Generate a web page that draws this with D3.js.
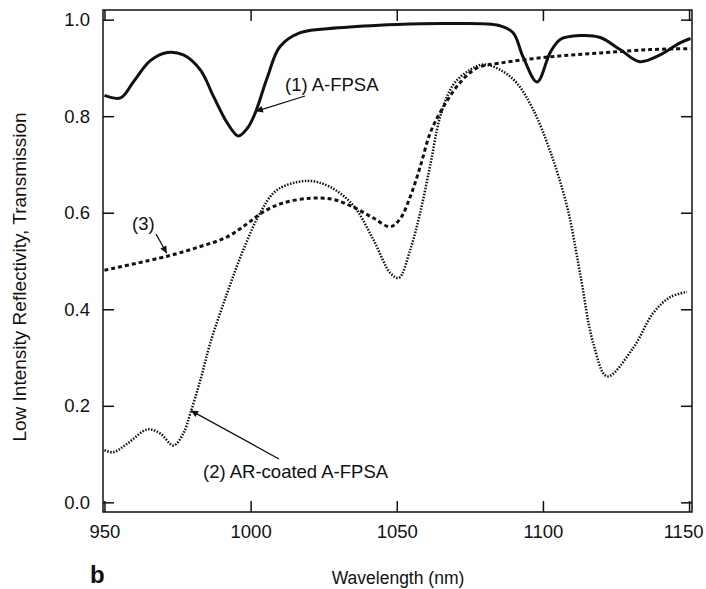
<!DOCTYPE html>
<html>
<head>
<meta charset="utf-8">
<script src="https://cdn.jsdelivr.net/npm/d3@7"></script>
<style>
  body { margin: 0; background: #fff; }
  text { font-family: "Liberation Sans", Arial, sans-serif; fill: #111; }
</style>
</head>
<body>
<svg id="chart" width="706" height="589"></svg>
<script>
// (1) A-FPSA, solid
const afpsaWl = [950, 955.5, 960, 965.7, 971.5, 977, 982.8, 987.3, 992, 995.8, 999, 1001.6, 1005.7, 1010, 1017, 1030, 1050, 1068, 1085, 1089.8, 1093.2, 1098, 1102.5, 1105.9, 1112.7, 1119.6, 1126.4, 1133.2, 1140.1, 1146.9, 1150.5];
const afpsaVal = [0.843, 0.838, 0.872, 0.915, 0.932, 0.927, 0.896, 0.841, 0.786, 0.759, 0.776, 0.807, 0.88, 0.944, 0.973, 0.983, 0.99, 0.992, 0.988, 0.973, 0.923, 0.871, 0.932, 0.959, 0.967, 0.963, 0.938, 0.913, 0.927, 0.952, 0.961];

// (2) AR-coated A-FPSA, dotted
const arWl = [950, 953, 957.9, 964.7, 969, 973.6, 977, 979.4, 982.8, 986.2, 992, 997.5, 1003.3, 1009, 1019.4, 1027, 1035, 1042, 1047.8, 1050.7, 1054.6, 1058, 1061.5, 1064.9, 1069.3, 1075, 1079.6, 1085.4, 1091, 1096.7, 1102.5, 1108.3, 1112.7, 1117.2, 1122, 1130.9, 1137.7, 1143.5, 1149.3];
const arVal = [0.108, 0.104, 0.122, 0.151, 0.143, 0.118, 0.143, 0.185, 0.253, 0.33, 0.434, 0.523, 0.6, 0.647, 0.666, 0.654, 0.616, 0.544, 0.475, 0.465, 0.523, 0.6, 0.7, 0.8, 0.865, 0.896, 0.907, 0.896, 0.869, 0.813, 0.727, 0.612, 0.475, 0.33, 0.261, 0.32, 0.392, 0.425, 0.436];

// (3), dashed
const c3Wl = [950, 971.5, 982.8, 992, 999, 1004.4, 1011, 1020.4, 1028, 1035, 1042, 1047.8, 1051.2, 1054.6, 1058, 1061.5, 1066, 1071.7, 1077.5, 1085.4, 1102.5, 1119.6, 1136.7, 1150.5];
const c3Val = [0.481, 0.51, 0.53, 0.55, 0.578, 0.602, 0.62, 0.63, 0.628, 0.612, 0.589, 0.571, 0.588, 0.633, 0.695, 0.766, 0.82, 0.87, 0.9, 0.91, 0.923, 0.931, 0.938, 0.94];

const xTicks = [950, 1000, 1050, 1100, 1150];
const yTicks = [0, 0.2, 0.4, 0.6, 0.8, 1.0];

const svg = d3.select("#chart");
const frame = { left: 103, right: 692, top: 10, bottom: 512 };

const x = d3.scaleLinear().domain([949.5, 1151]).range([frame.left, frame.right]);
const y = d3.scaleLinear().domain([-0.02, 1.02]).range([frame.bottom, frame.top]);

svg.append("defs").append("marker")
  .attr("id", "arrow")
  .attr("viewBox", "0 0 10 10")
  .attr("refX", 10).attr("refY", 5)
  .attr("markerWidth", 10).attr("markerHeight", 7)
  .attr("markerUnits", "userSpaceOnUse")
  .attr("orient", "auto")
  .append("path")
  .attr("d", "M0,0L10,5L0,10z")
  .attr("fill", "#111");

// frame
svg.append("rect")
  .attr("x", frame.left).attr("y", frame.top)
  .attr("width", frame.right - frame.left).attr("height", frame.bottom - frame.top)
  .attr("fill", "none").attr("stroke", "#111").attr("stroke-width", 1.5);

const tickLen = 11;
const axes = [
  { axis: d3.axisBottom(x).tickValues(xTicks).tickFormat(d3.format("d")), t: `translate(0,${frame.bottom})`, labels: true },
  { axis: d3.axisTop(x).tickValues(xTicks), t: `translate(0,${frame.top})`, labels: false },
  { axis: d3.axisLeft(y).tickValues(yTicks).tickFormat(d3.format(".1f")), t: `translate(${frame.left},0)`, labels: true },
  { axis: d3.axisRight(y).tickValues(yTicks), t: `translate(${frame.right},0)`, labels: false },
];
axes.forEach((a) => {
  const g = svg.append("g")
    .attr("transform", a.t)
    .call(a.axis.tickSizeInner(-tickLen).tickSizeOuter(0).tickPadding(13));
  g.select(".domain").remove();
  g.selectAll(".tick line").attr("stroke", "#111").attr("stroke-width", 1.5);
  g.selectAll(".tick text")
    .style("font-size", "18.5px")
    .attr("fill", "#111")
    .style("display", a.labels ? null : "none");
});

// last x label sits a little left of its tick, as in the print
svg.selectAll(".tick text")
  .filter((d) => d === 1150)
  .attr("dx", -6);

const line = (xs, ys) => d3.line()
  .x((d, i) => x(xs[i]))
  .y((d, i) => y(ys[i]))
  .curve(d3.curveCatmullRom.alpha(0.5))(xs);

svg.append("path")
  .attr("d", line(afpsaWl, afpsaVal))
  .attr("fill", "none").attr("stroke", "#111").attr("stroke-width", 3);

svg.append("path")
  .attr("d", line(c3Wl, c3Val))
  .attr("fill", "none").attr("stroke", "#111").attr("stroke-width", 3)
  .attr("stroke-dasharray", "4,3");

svg.append("path")
  .attr("d", line(arWl, arVal))
  .attr("fill", "none").attr("stroke", "#111").attr("stroke-width", 2.5)
  .attr("stroke-dasharray", "1.5,1.5");

// annotations
const notes = [
  { label: "(1) A-FPSA", tx: 285, ty: 91, from: [305, 96], to: [x(1001.8), y(0.81)] },
  { label: "(3)", tx: 132, ty: 230, from: [156, 234], to: [x(971.3), y(0.516)] },
  { label: "(2) AR-coated A-FPSA", tx: 203, ty: 478, from: [279, 459], to: [x(979.6), y(0.19)] },
];
notes.forEach((n) => {
  svg.append("text")
    .attr("x", n.tx).attr("y", n.ty)
    .style("font-size", "18.5px")
    .text(n.label);
  svg.append("line")
    .attr("x1", n.from[0]).attr("y1", n.from[1])
    .attr("x2", n.to[0]).attr("y2", n.to[1])
    .attr("stroke", "#111").attr("stroke-width", 1.3)
    .attr("marker-end", "url(#arrow)");
});

svg.append("text")
  .attr("text-anchor", "middle")
  .attr("x", 398).attr("y", 584)
  .style("font-size", "17.5px")
  .text("Wavelength (nm)");

svg.append("text")
  .attr("text-anchor", "middle")
  .attr("transform", "rotate(-90)")
  .attr("x", -277).attr("y", 26)
  .style("font-size", "19px")
  .text("Low Intensity Reflectivity, Transmission");

svg.append("text")
  .attr("x", 90).attr("y", 583)
  .style("font-size", "24px")
  .style("font-weight", "bold")
  .text("b");
</script>
</body>
</html>
